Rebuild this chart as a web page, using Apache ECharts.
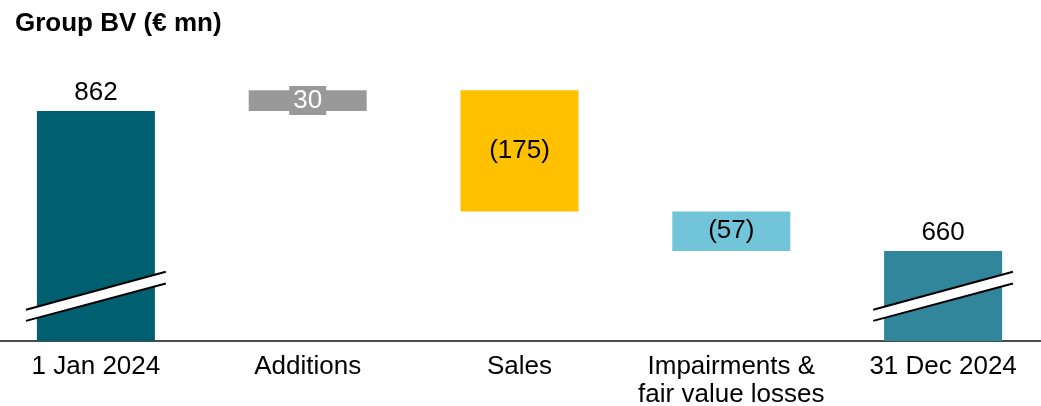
<!DOCTYPE html>
<html>
<head>
<meta charset="utf-8">
<title>Group BV</title>
<script src="https://cdn.jsdelivr.net/npm/echarts@6/dist/echarts.min.js"></script>
<style>
  html, body { margin: 0; padding: 0; background: #fff; }
  #chart { width: 1041px; height: 406px; }
</style>
</head>
<body>
<div id="chart"></div>
<script>
// data
const categories = ["1 Jan 2024", "Additions", "Sales", "Impairments &\nfair value losses", "31 Dec 2024"];
const baseValues = [0, 862, 717, 660, 0];      // invisible part under each bar
const barValues = [862, 30, 175, 57, 660];    // visible height of each bar
const barLabels = ["862", "30", "(175)", "(57)", "660"];
const barColors = ["#00606F", "#999999", "#FFC000", "#72C4D8", "#31869B"];

// axis break marks on the total bars: [left value, right value] for upper and lower edge
const breakBars = [0, 4];
const breakUpper = [575, 630];
const breakLower = [559, 613];

const FONT = "'Liberation Sans', Arial, sans-serif";

const chart = echarts.init(document.getElementById("chart"));

function labelFor(i) {
  if (i === 0 || i === 4) {
    return { show: true, position: "top", distance: 5, color: "#000", fontSize: 26, fontFamily: FONT };
  }
  if (i === 1) {
    return {
      show: true, position: "inside", color: "#fff", fontSize: 26, fontFamily: FONT,
      backgroundColor: "#999999", padding: [2, 4, 1, 4], lineHeight: 26
    };
  }
  return { show: true, position: "inside", color: "#000", fontSize: 26, fontFamily: FONT };
}

chart.setOption({
  animation: false,
  title: {
    text: "Group BV (€ mn)",
    left: 10,
    top: 6,
    textStyle: { fontSize: 26, fontWeight: "bold", color: "#000", fontFamily: FONT }
  },
  grid: { left: -10, right: -8, top: 50, bottom: 65, outerBoundsMode: "none" },
  xAxis: {
    type: "category",
    data: categories,
    axisTick: { show: false },
    axisLine: { lineStyle: { color: "#111", width: 1.5 } },
    axisLabel: { interval: 0, color: "#000", fontSize: 26, lineHeight: 28, margin: 12, fontFamily: FONT }
  },
  yAxis: {
    type: "value",
    show: false,
    min: 530,
    max: 950,
    splitLine: { show: false }
  },
  series: [
    {
      name: "base",
      type: "bar",
      stack: "wf",
      barWidth: 118,
      itemStyle: { color: "transparent" },
      silent: true,
      data: baseValues
    },
    {
      name: "value",
      type: "bar",
      stack: "wf",
      barWidth: 118,
      data: barValues.map((v, i) => ({
        value: v,
        itemStyle: { color: barColors[i] },
        label: Object.assign(labelFor(i), { formatter: barLabels[i] })
      }))
    },
    {
      name: "break",
      type: "custom",
      z: 10,
      silent: true,
      data: breakBars.map(i => [i]),
      renderItem(params, api) {
        const idx = api.value(0);
        const half = api.size([1, 0])[0] * 0.33;
        const ul = api.coord([idx, breakUpper[0]]);
        const ur = api.coord([idx, breakUpper[1]]);
        const ll = api.coord([idx, breakLower[0]]);
        const lr = api.coord([idx, breakLower[1]]);
        const x0 = ul[0] - half, x1 = ul[0] + half;
        return {
          type: "group",
          children: [
            {
              type: "polygon",
              shape: { points: [[x0, ul[1]], [x1, ur[1]], [x1, lr[1]], [x0, ll[1]]] },
              style: { fill: "#fff" }
            },
            {
              type: "line",
              shape: { x1: x0, y1: ul[1], x2: x1, y2: ur[1] },
              style: { stroke: "#000", lineWidth: 2 }
            },
            {
              type: "line",
              shape: { x1: x0, y1: ll[1], x2: x1, y2: lr[1] },
              style: { stroke: "#000", lineWidth: 2 }
            }
          ]
        };
      }
    }
  ]
});
</script>
</body>
</html>
